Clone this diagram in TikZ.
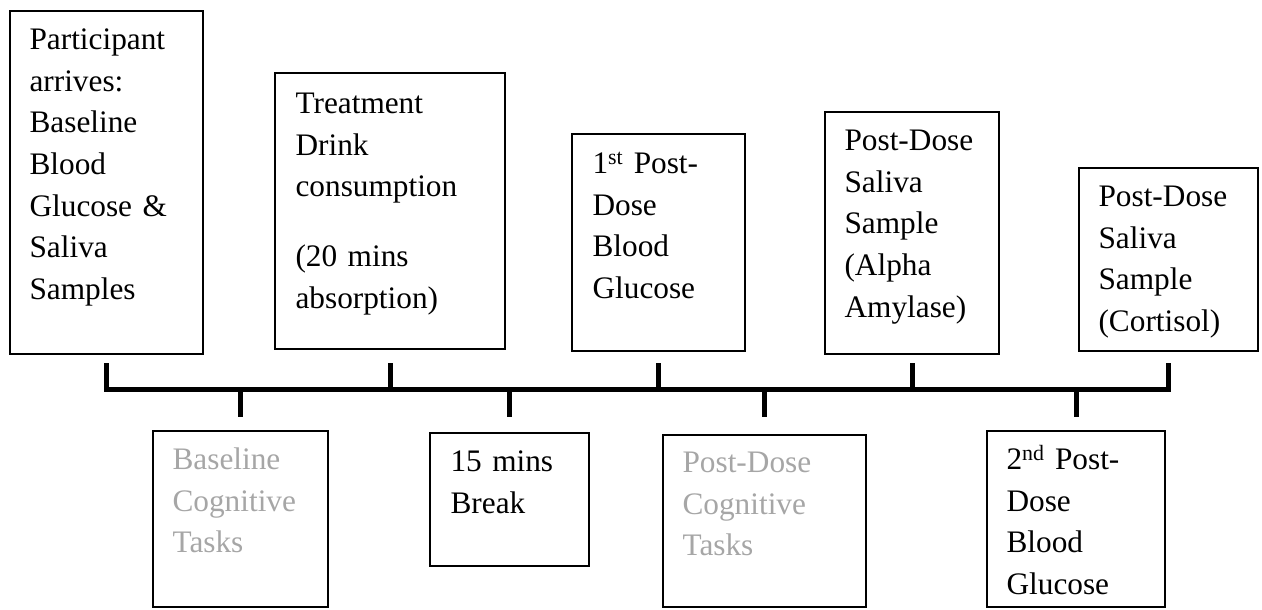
\documentclass[tikz,border=0pt]{standalone}
\usepackage{fontspec}
\setmainfont{Liberation Serif}
\usetikzlibrary{calc}
\definecolor{taskgray}{HTML}{A6A6A6}
\tikzset{
  stagebox/.style={draw=black, line width=1.3pt, inner sep=0pt},
  steptext/.style={anchor=base west, align=left, text width=220pt, inner sep=0pt,
    font=\fontsize{31.3pt}{41.7pt}\selectfont},
  graytext/.style={steptext, text=taskgray},
  rail/.style={line width=5pt, line join=miter},
}
\begin{document}
\begin{tikzpicture}[x=1pt, y=-1pt]
\useasboundingbox (0,0) rectangle (1262,610);

% upper row of stages
\node[stagebox, minimum width=193pt, minimum height=343pt] (b1) at (106.5,182.5) {};
\node[stagebox, minimum width=230pt, minimum height=276pt] (b2) at (390,211) {};
\node[stagebox, minimum width=173pt, minimum height=217pt] (b3) at (658.5,242.5) {};
\node[stagebox, minimum width=174pt, minimum height=242pt] (b4) at (912,233) {};
\node[stagebox, minimum width=179pt, minimum height=183pt] (b5) at (1168.5,259.5) {};

% lower row of stages
\node[stagebox, minimum width=175pt, minimum height=176pt] (c1) at (240.5,519) {};
\node[stagebox, minimum width=159pt, minimum height=133pt] (c2) at (509.5,499.5) {};
\node[stagebox, minimum width=203pt, minimum height=172pt] (c3) at (764.5,521) {};
\node[stagebox, minimum width=178pt, minimum height=176pt] (c4) at (1076,519) {};

% texts
\node[steptext] (t1) at ([shift={(20,39)}]b1.north west)
  {Participant\\arrives:\\Baseline\\Blood\\Glucose \&\\Saliva\\Samples};
\node[steptext] (t2) at ([shift={(21,41)}]b2.north west)
  {Treatment\\Drink\\consumption\\[28.5pt](20 mins\\absorption)};
\node[steptext] (t3) at ([shift={(21,40)}]b3.north west)
  {1\textsuperscript{st} Post-\\Dose\\Blood\\Glucose};
\node[steptext] (t4) at ([shift={(20,39)}]b4.north west)
  {Post-Dose\\Saliva\\Sample\\(Alpha\\Amylase)};
\node[steptext] (t5) at ([shift={(20,39)}]b5.north west)
  {Post-Dose\\Saliva\\Sample\\(Cortisol)};

\node[graytext] (u1) at ([shift={(20,39)}]c1.north west)
  {Baseline\\Cognitive\\Tasks};
\node[steptext] (u2) at ([shift={(21,39)}]c2.north west)
  {15 mins\\Break};
\node[graytext] (u3) at ([shift={(20,38)}]c3.north west)
  {Post-Dose\\Cognitive\\Tasks};
\node[steptext] (u4) at ([shift={(20,39)}]c4.north west)
  {2\textsuperscript{nd} Post-\\Dose\\Blood\\Glucose};

% timeline
\coordinate (railtop) at (0,363);
\coordinate (rail) at (0,389);
\coordinate (railbot) at (0,417);
\draw[rail] (b1.south |- railtop) -- (b1.south |- rail) -- (b5.south |- rail) -- (b5.south |- railtop);
\foreach \b in {b2,b3,b4}
  \draw[rail] (\b.south |- railtop) -- (\b.south |- rail);
\foreach \c in {c1,c2,c3,c4}
  \draw[rail] (\c.north |- rail) -- (\c.north |- railbot);
\end{tikzpicture}
\end{document}
